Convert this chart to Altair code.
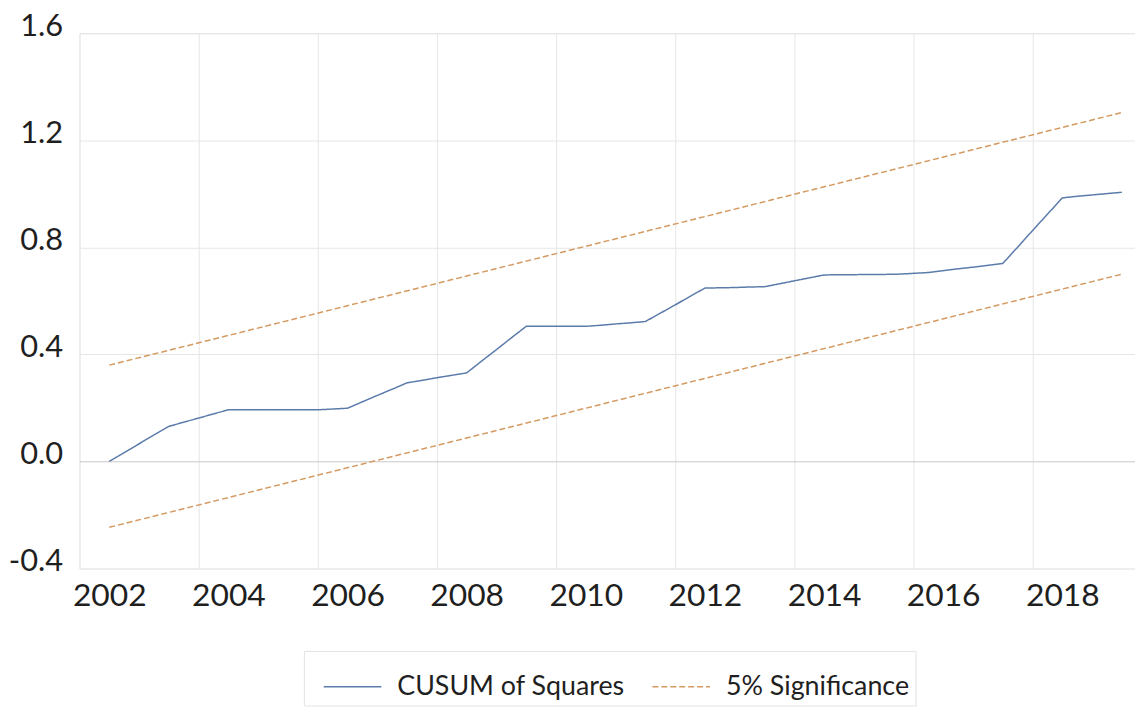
import altair as alt
import pandas as pd

# ---- data ----
start_year = 2002
n_quarters = 69  # 2002Q1 .. 2019Q1
cusum_sq = [0.000, 0.033, 0.066, 0.099, 0.131, 0.147, 0.162, 0.178,
            0.193, 0.193, 0.193, 0.193, 0.193, 0.193, 0.193, 0.196,
            0.199, 0.223, 0.247, 0.270, 0.294, 0.303, 0.313, 0.322,
            0.331, 0.375, 0.418, 0.462, 0.505, 0.505, 0.505, 0.505,
            0.505, 0.509, 0.514, 0.518, 0.523, 0.554, 0.585, 0.617,
            0.648, 0.649, 0.650, 0.652, 0.653, 0.664, 0.675, 0.686,
            0.697, 0.698, 0.698, 0.699, 0.699, 0.700, 0.703, 0.706,
            0.713, 0.720, 0.726, 0.733, 0.740, 0.801, 0.863, 0.924,
            0.985, 0.991, 0.996, 1.001, 1.006]
bound_years = [2002.0, 2019.0]
upper_bound = [0.360, 1.304]
lower_bound = [-0.246, 0.700]
series_names = ["CUSUM of Squares", "5% Significance"]
x_tick_years = [2002, 2004, 2006, 2008, 2010, 2012, 2014, 2016, 2018]
y_ticks = [-0.4, 0.0, 0.4, 0.8, 1.2, 1.6]

rows = []
for i, v in enumerate(cusum_sq):
    rows.append({"year": start_year + i / 4, "value": v,
                 "series": series_names[0], "grp": "cusum"})
for yr, u in zip(bound_years, upper_bound):
    rows.append({"year": yr, "value": u, "series": series_names[1], "grp": "upper"})
for yr, l in zip(bound_years, lower_bound):
    rows.append({"year": yr, "value": l, "series": series_names[1], "grp": "lower"})
df = pd.DataFrame(rows)

FONT = "Lato"
TXT = "#1f1f1f"

x_axis = alt.Axis(
    values=x_tick_years, labelExpr="format(datum.value, 'd')",
    title=None, ticks=False, domain=False, labelFlush=False, labelOverlap=False,
    grid=True, gridColor="#e6e6e6", gridWidth=1,
    gridOpacity={"condition": {"test": "datum.value === 2002", "value": 0}, "value": 1},
    tickOffset=-30, labelOffset=30, labelPadding=12,
    labelFont=FONT, labelFontSize=32, labelColor=TXT,
)
y_axis = alt.Axis(
    values=y_ticks,
    labelExpr="datum.value < 0 ? '-' + format(-datum.value, '.1f') : format(datum.value, '.1f')",
    title=None, ticks=False, domain=False,
    grid=True, gridWidth=1,
    gridColor={"condition": {"test": "abs(datum.value) < 0.01", "value": "#c8c8c8"}, "value": "#e6e6e6"},
    gridOpacity={"condition": {"test": "datum.value < -0.3 || datum.value > 1.5", "value": 0}, "value": 1},
    labelPadding=17, labelOffset=-7,
    labelFont=FONT, labelFontSize=31, labelColor=TXT,
)

legend_kw = dict(
    orient="none", legendX=226, legendY=622, direction="horizontal",
    columns=2, symbolType="stroke", symbolSize=3364, symbolStrokeWidth=1.5,
    symbolOffset=13,
    labelFont=FONT, labelFontSize=27, labelColor=TXT, labelOffset=15, labelLimit=500,
    columnPadding=13, padding=6,
    fillColor="white", strokeColor="#e3e3e3",
)

chart = alt.Chart(df).mark_line(strokeWidth=1.5).encode(
    x=alt.X("year:Q", scale=alt.Scale(domain=[2001.5, 2019.22], nice=False, zero=False), axis=x_axis),
    y=alt.Y("value:Q", scale=alt.Scale(domain=[-0.4, 1.6], nice=False), axis=y_axis),
    color=alt.Color("series:N", title=None,
                    scale=alt.Scale(domain=series_names, range=["#5b7bab", "#d49a62"]),
                    legend=alt.Legend(**legend_kw)),
    strokeDash=alt.StrokeDash("series:N", title=None,
                              scale=alt.Scale(domain=series_names, range=[[1, 0], [6, 3]]),
                              legend=alt.Legend(**legend_kw)),
    detail="grp:N",
    order="year:Q",
).properties(
    width=1063, height=539,
    padding={"left": 72, "top": 23, "right": 0, "bottom": 141},
    autosize=alt.AutoSizeParams(type="none"),
).configure_view(stroke=None).configure(background="white")

chart.save("out.html", embed_options={"renderer": "svg", "actions": False})
